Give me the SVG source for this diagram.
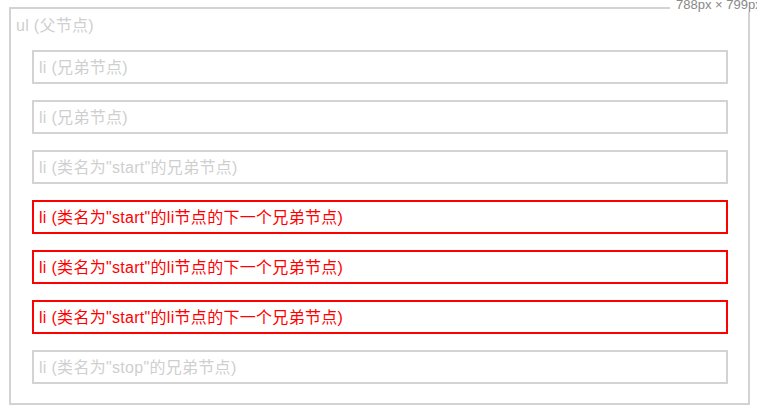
<svg xmlns="http://www.w3.org/2000/svg" width="757" height="414" viewBox="0 0 757 414">
<style>
.box{fill:none;stroke:#d3d3d3;stroke-width:2}
.red{fill:none;stroke:#ff0000;stroke-width:2}
.t{font-family:"Liberation Sans","Noto Sans CJK SC",sans-serif;font-size:16px;letter-spacing:0.3px;fill:#cfcfcf}
.tr{font-family:"Liberation Sans","Noto Sans CJK SC",sans-serif;font-size:16px;letter-spacing:0.3px;fill:#ff0000}
.dim{font-family:"Liberation Sans",sans-serif;font-size:13px;fill:#888}
</style>
<rect width="757" height="414" fill="#fff"/>
<g id="ul">
<rect class="box" x="10" y="8" width="739" height="396"/>
<text class="t" x="16" y="31">ul (父节点)</text>
</g>
<g id="dimension">
<rect x="670" y="0" width="87" height="12" fill="#fff"/>
<text class="dim" x="676" y="9">788px × 799px</text>
</g>
<g id="li1">
<rect class="box" x="33" y="51" width="694" height="32"/>
<text class="t" x="39" y="73">li (兄弟节点)</text>
</g>
<g id="li2">
<rect class="box" x="33" y="101" width="694" height="32"/>
<text class="t" x="39" y="123">li (兄弟节点)</text>
</g>
<g id="li3">
<rect class="box" x="33" y="151" width="694" height="32"/>
<text class="t" x="39" y="173">li (类名为"start"的兄弟节点)</text>
</g>
<g id="li4">
<rect class="red" x="33" y="201" width="694" height="32"/>
<text class="tr" x="39" y="223">li (类名为"start"的li节点的下一个兄弟节点)</text>
</g>
<g id="li5">
<rect class="red" x="33" y="251" width="694" height="32"/>
<text class="tr" x="39" y="273">li (类名为"start"的li节点的下一个兄弟节点)</text>
</g>
<g id="li6">
<rect class="red" x="33" y="301" width="694" height="32"/>
<text class="tr" x="39" y="323">li (类名为"start"的li节点的下一个兄弟节点)</text>
</g>
<g id="li7">
<rect class="box" x="33" y="351" width="694" height="32"/>
<text class="t" x="39" y="373">li (类名为"stop"的兄弟节点)</text>
</g>
<g id="connectors"/>
</svg>
